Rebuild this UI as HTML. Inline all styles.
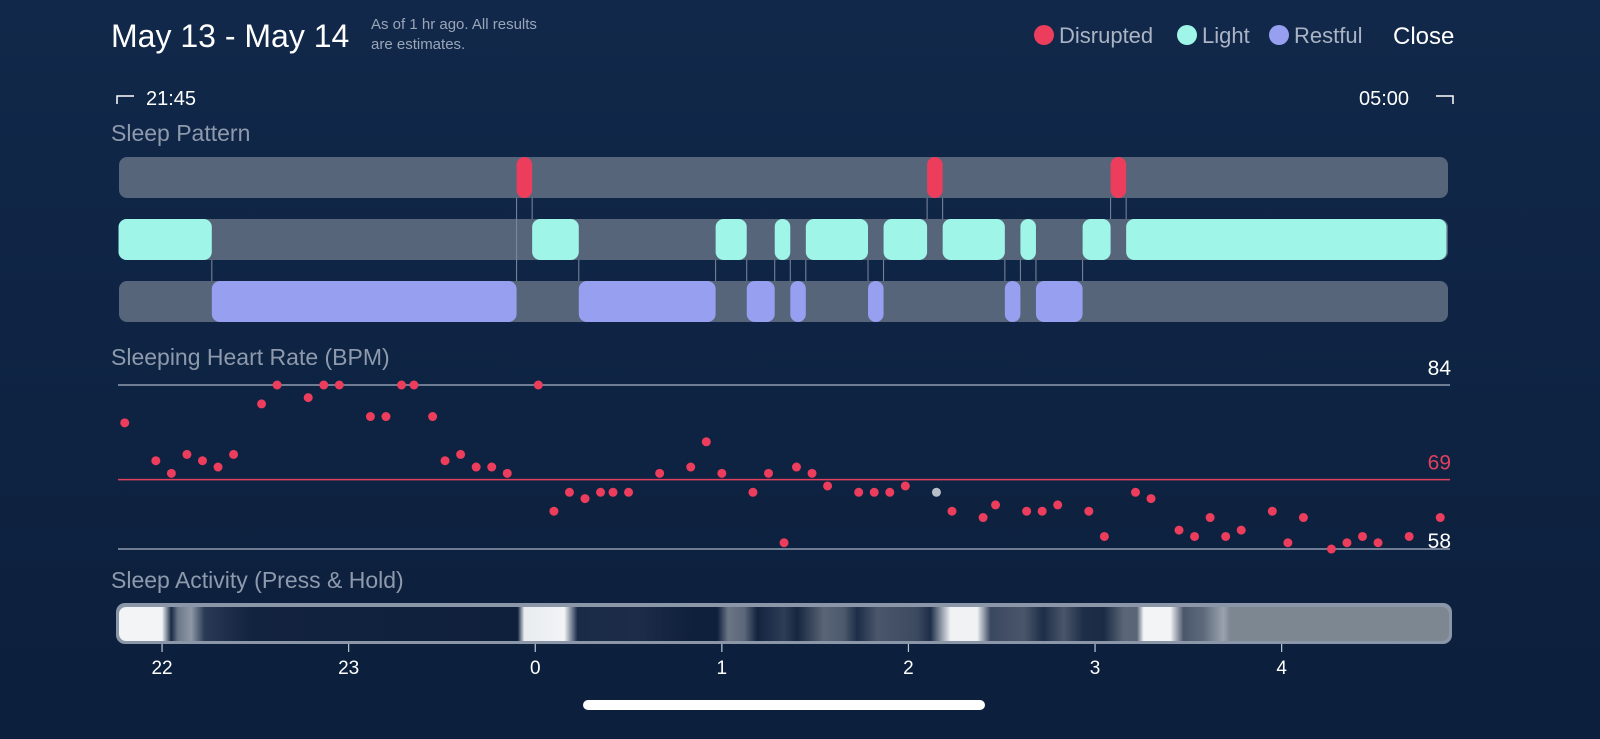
<!DOCTYPE html>
<html><head><meta charset="utf-8"><style>
html,body{margin:0;padding:0;width:1600px;height:739px;overflow:hidden;background:#0e2240;font-family:"Liberation Sans",sans-serif}
svg{display:block}
</style></head><body>
<svg id="c" width="1600" height="739" xmlns="http://www.w3.org/2000/svg">
<defs>
<linearGradient id="bg" x1="0" y1="0" x2="0" y2="1"><stop offset="0" stop-color="#11284a"/><stop offset="1" stop-color="#0c1f3c"/></linearGradient>
<linearGradient id="act" gradientUnits="userSpaceOnUse" x1="118" y1="0" x2="1450" y2="0">
<stop offset="0" stop-color="#f2f4f6"/><stop offset="0.033" stop-color="#f2f4f6"/><stop offset="0.04" stop-color="#1a2b45"/>
<stop offset="0.045" stop-color="#6c7788"/><stop offset="0.055" stop-color="#8e98a5"/><stop offset="0.065" stop-color="#2a3a55"/>
<stop offset="0.1" stop-color="#12233f"/><stop offset="0.29" stop-color="#0f203d"/>
<stop offset="0.3" stop-color="#0f203d"/><stop offset="0.305" stop-color="#e8ecef"/><stop offset="0.335" stop-color="#f2f4f6"/><stop offset="0.345" stop-color="#1a2b48"/>
<stop offset="0.39" stop-color="#1c2d48"/><stop offset="0.43" stop-color="#0f203d"/><stop offset="0.45" stop-color="#0f203d"/>
<stop offset="0.458" stop-color="#6a7585"/><stop offset="0.47" stop-color="#5c687a"/><stop offset="0.48" stop-color="#13243f"/>
<stop offset="0.5" stop-color="#2e3d56"/><stop offset="0.51" stop-color="#15263f"/><stop offset="0.53" stop-color="#5a6678"/><stop offset="0.545" stop-color="#4c586c"/>
<stop offset="0.555" stop-color="#1d2e48"/><stop offset="0.57" stop-color="#4a566a"/><stop offset="0.6" stop-color="#3c4a60"/><stop offset="0.61" stop-color="#1d2e48"/>
<stop offset="0.625" stop-color="#f0f2f4"/><stop offset="0.645" stop-color="#f0f2f4"/><stop offset="0.655" stop-color="#3a4860"/>
<stop offset="0.68" stop-color="#4a566a"/><stop offset="0.695" stop-color="#1d2e48"/><stop offset="0.71" stop-color="#4a566a"/><stop offset="0.725" stop-color="#1d2e48"/>
<stop offset="0.74" stop-color="#1a2b45"/><stop offset="0.755" stop-color="#5a6678"/><stop offset="0.765" stop-color="#5a6678"/><stop offset="0.77" stop-color="#f2f4f6"/><stop offset="0.79" stop-color="#f2f4f6"/>
<stop offset="0.8" stop-color="#4a566a"/><stop offset="0.815" stop-color="#5e6a7c"/><stop offset="0.83" stop-color="#9aa3ad"/><stop offset="0.835" stop-color="#7d8791"/><stop offset="1" stop-color="#7d8791"/>
</linearGradient>
</defs>
<rect width="1600" height="739" fill="url(#bg)"/>
<text x="111" y="47" font-size="32" fill="#ffffff">May 13 - May 14</text>
<text x="371" y="29" font-size="15" fill="#9aa6b8">As of 1 hr ago. All results</text>
<text x="371" y="49" font-size="15" fill="#9aa6b8">are estimates.</text>
<g>
<circle cx="1044" cy="35" r="10" fill="#ec3d5c"/>
<text x="1059" y="43" font-size="22" fill="#aab4c4">Disrupted</text>
<circle cx="1187" cy="35" r="10" fill="#9ff5e8"/>
<text x="1202" y="43" font-size="22" fill="#aab4c4">Light</text>
<circle cx="1279" cy="35" r="10" fill="#969ff0"/>
<text x="1294" y="43" font-size="22" fill="#aab4c4">Restful</text>
</g>
<text x="1393" y="44" font-size="24" fill="#ffffff">Close</text>
<path d="M117 104 V96 H134" stroke="#ffffff" stroke-width="1.5" fill="none"/>
<text x="146" y="105" font-size="20" fill="#ffffff">21:45</text>
<text x="1359" y="105" font-size="20" fill="#ffffff">05:00</text>
<path d="M1436 96 H1453 V104" stroke="#ffffff" stroke-width="1.5" fill="none"/>
<text x="111" y="141" font-size="23" fill="#8e9aac">Sleep Pattern</text>
<text x="111" y="365" font-size="23" fill="#8e9aac">Sleeping Heart Rate (BPM)</text>
<text x="111" y="588" font-size="23" fill="#8e9aac">Sleep Activity (Press &amp; Hold)</text>
<g id="pattern"></g>
<g id="hr"></g>
<g>
<rect x="116" y="603" width="1336" height="41" rx="9" fill="#8b97a8"/>
<rect x="119" y="607" width="1330" height="34" rx="7" fill="url(#act)"/>
</g>
<g id="axis"></g>
<rect x="583" y="700" width="402" height="10" rx="5" fill="#ffffff"/>
</svg>
<script>
const NS="http://www.w3.org/2000/svg";
// minutes since 21:45
const lightSegs=[[1,31],[134,149],[193,203],[212,217],[222,242],[247,261],[266,286],[291,296],[311,320],[325,428]];
const restfulSegs=[[31,129],[149,193],[203,212],[217,222],[242,247],[286,291],[296,311]];
const disruptedSegs=[[129,134],[261,266],[320,325]];
const hrMinutes=[3,13,18,23,28,33,38,47,52,62,67,72,82,87,92,96,102,106,111,116,121,126,136,141,146,151,156,160,165,175,185,190,195,205,210,215,219,224,229,239,244,249,254,264,269,279,283,293,298,303,313,318,328,333,342,347,352,357,362,372,377,382,391,396,401,406,416,426];
const hrValues=[78,72,70,73,72,71,73,81,84,82,84,84,79,79,84,84,79,72,73,71,71,70,84,64,67,66,67,67,67,70,71,75,70,67,70,59,71,70,68,67,67,67,68,67,64,63,65,64,64,65,64,60,67,66,61,60,63,60,61,64,59,63,58,59,60,59,60,63];
const hrGray=[264];
const refLines=[84,69,58];
const tickHours=[22,23,0,1,2,3,4];
const tickLabels=["22","23","0","1","2","3","4"];
const X=m=>115.4+m*3.11;
const hourX=h=>X(((h<12?h+24:h)-21.75)*60);
const Y=b=>385+(84-b)*6.31;
function mk(tag,attrs,parent){const e=document.createElementNS(NS,tag);for(const k in attrs)e.setAttribute(k,attrs[k]);parent.appendChild(e);return e;}
const P=document.getElementById('pattern');
const rows=[{y:157,segs:disruptedSegs,c:"#ec3d5c",n:"disrupted"},{y:219,segs:lightSegs,c:"#9ff5e8",n:"light"},{y:281,segs:restfulSegs,c:"#969ff0",n:"restful"}];
rows.forEach(r=>{
 const t=mk('rect',{x:119,y:r.y,width:1329,height:41,rx:8,fill:"#56657a"},P);
 
 
});
const all=[];rows.forEach((r,i)=>r.segs.forEach(s=>all.push({i,s})));
all.forEach(a=>{[a.s[0],a.s[1]].forEach(m=>{
 all.forEach(b=>{if(b.i!==a.i&&a.i<b.i&&(Math.abs(b.s[0]-m)<0.5||Math.abs(b.s[1]-m)<0.5)){
  const ln=mk('line',{x1:X(m),x2:X(m),y1:rows[a.i].y+41,y2:rows[b.i].y,stroke:"#7d8aa0","stroke-width":1},P);
  
  }
 });});});
rows.forEach(r=>r.segs.forEach(s=>{
 const w=X(s[1])-X(s[0]);
 const e=mk('rect',{x:X(s[0]),y:r.y,width:w,height:41,rx:Math.min(8,w/2),fill:r.c},P);
 
 
}));
const H=document.getElementById('hr');
const lc=["#8f9bb0","#e0415f","#8f9bb0"];
refLines.forEach((v,i)=>{
 const l=mk('line',{x1:118,x2:1450,y1:Y(v),y2:Y(v),stroke:lc[i],"stroke-width":1.5},H);
 
 
 const t=mk('text',{x:1451,y:Y(v)+(i===2?-1:-10),"font-size":21,fill:i===1?"#e0415f":"#ffffff","text-anchor":"end"},H);
 t.textContent=v;
 
 
});
hrMinutes.forEach((m,i)=>{
 const d=mk('circle',{cx:X(m),cy:Y(hrValues[i]),r:4.5,fill:hrGray.includes(m)?"#b8bec8":"#ec3d5c"},H);
 
 
});
const A=document.getElementById('axis');
tickHours.forEach((h,i)=>{
 const x=hourX(h);
 const tk=mk('line',{x1:x,x2:x,y1:644,y2:652,stroke:"#c0c8d4","stroke-width":1.2},A);
 
 
 const t=mk('text',{x:x,y:674,"font-size":19,fill:"#ffffff","text-anchor":"middle"},A);
 t.textContent=tickLabels[i];
 
 
});
</script>
</body></html>
